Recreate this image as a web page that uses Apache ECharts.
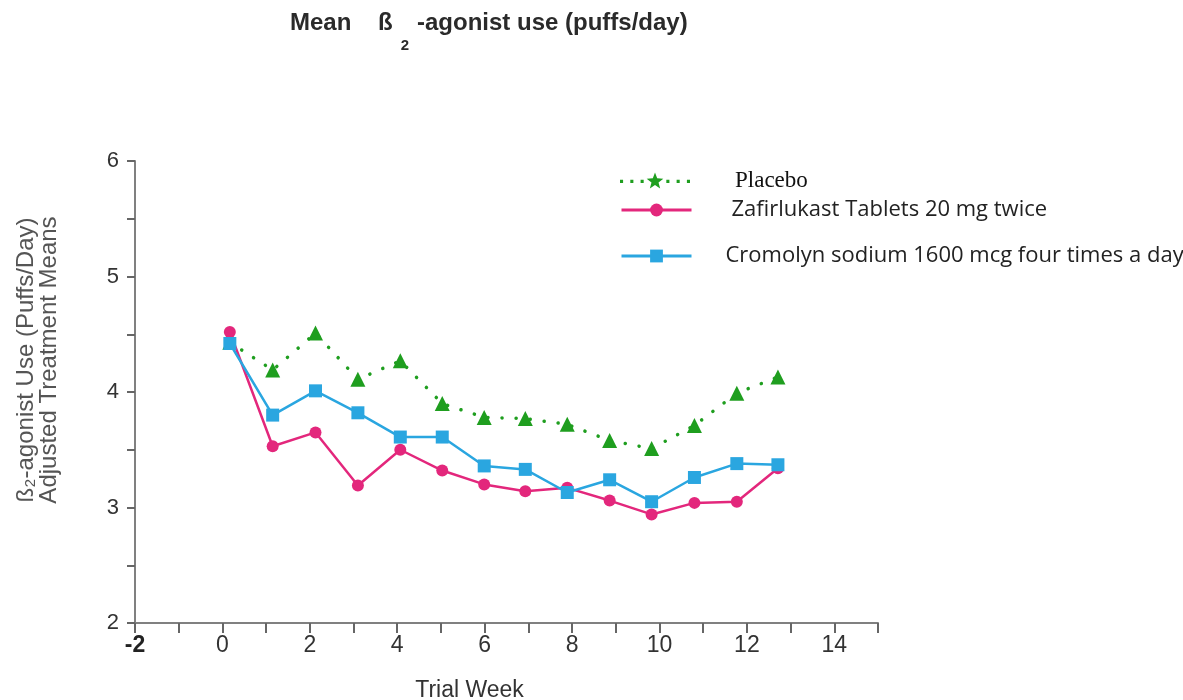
<!DOCTYPE html>
<html>
<head>
<meta charset="utf-8">
<script src="https://cdn.jsdelivr.net/npm/echarts@6/dist/echarts.min.js"></script>
<style>html,body{margin:0;padding:0;background:#fff;}#chart{width:1183px;height:700px;}</style>
</head>
<body>
<div id="chart"></div>
<script>
// ---- data ----
var weeks = [0.17, 1.15, 2.13, 3.1, 4.07, 5.03, 5.99, 6.93, 7.89, 8.86, 9.82, 10.8, 11.77, 12.71];
var placebo = [4.43, 4.19, 4.51, 4.11, 4.27, 3.90, 3.78, 3.77, 3.72, 3.58, 3.51, 3.71, 3.99, 4.13];
var zafirlukast = [4.52, 3.53, 3.65, 3.19, 3.50, 3.32, 3.20, 3.14, 3.17, 3.06, 2.94, 3.04, 3.05, 3.34];
var cromolyn = [4.42, 3.80, 4.01, 3.82, 3.61, 3.61, 3.36, 3.33, 3.13, 3.24, 3.05, 3.26, 3.38, 3.37];
var seriesNames = ['Placebo', 'Zafirlukast Tablets 20 mg twice', 'Cromolyn sodium 1600 mcg four times a day'];
var xLabels = ['-2', '0', '2', '4', '6', '8', '10', '12', '14'];
var yLabels = ['2', '3', '4', '5', '6'];

function pairs(xs, ys) { return xs.map(function (x, i) { return [x, ys[i]]; }); }

var GREEN = '#1f9e1f', PINK = '#e3277c', BLUE = '#2aa6e0';
var starIcon = 'path://M1,6.5h3v3h-3z M11,6.5h3v3h-3z M21,6.5h3v3h-3z ' +
  'M35,-0.5 L37.12,5.09 L43.08,5.37 L38.42,9.11 L40,14.88 L35,11.6 L30,14.88 L31.58,9.11 L26.92,5.37 L32.88,5.09 Z ' +
  'M46,6.5h3v3h-3z M56,6.5h3v3h-3z M66,6.5h3v3h-3z';

var chart = echarts.init(document.getElementById('chart'));
var sansLegend = { fontFamily: 'Open Sans', fontSize: 22, color: '#222' };
chart.setOption({
  animation: false,
  backgroundColor: '#fff',
  title: {
    left: 285, top: -11,
    text: '{a|Mean    ß}{s|2}{a|-agonist use (puffs/day)}',
    textStyle: {
      rich: {
        a: { fontFamily: 'Liberation Sans', fontWeight: 'bold', fontSize: 24, color: '#2a2a2a', lineHeight: 28 },
        s: { fontFamily: 'Liberation Sans', fontWeight: 'bold', fontSize: 15, color: '#2a2a2a', padding: [44, 8, 0, 8] }
      }
    }
  },
  grid: { left: 135, right: 305, top: 161, bottom: 77, outerBoundsMode: 'none', containLabel: false },
  legend: [
    { data: [{ name: seriesNames[0], icon: starIcon }], left: 620, top: 169, itemWidth: 70, itemHeight: 16, padding: 0,
      textStyle: { fontFamily: 'Liberation Serif', fontSize: 23, color: '#111', padding: [0, 0, 0, 40] } },
    { data: [seriesNames[1]], left: 620, top: 199, itemWidth: 70, itemHeight: 16, padding: 0,
      lineStyle: { width: 3 },
      textStyle: Object.assign({}, sansLegend, { padding: [0, 0, 0, 35] }) },
    { data: [seriesNames[2]], left: 620, top: 245, itemWidth: 70, itemHeight: 16, padding: 0,
      lineStyle: { width: 3 },
      textStyle: Object.assign({}, sansLegend, { padding: [0, 0, 0, 29] }) }
  ],
  xAxis: {
    type: 'value', min: -2, max: 15, interval: 1,
    name: 'Trial Week', nameLocation: 'middle', nameGap: 56,
    nameTextStyle: { fontFamily: 'Liberation Sans', fontSize: 23, color: '#333', padding: [0, 74, 0, 0] },
    axisLine: { onZero: false, lineStyle: { color: '#808080', width: 2 } },
    axisTick: { show: true, length: 10, lineStyle: { color: '#666', width: 2 } },
    axisLabel: {
      margin: 11, fontFamily: 'Liberation Sans', fontSize: 23, color: '#333',
      formatter: function (v) { var s = String(v); return xLabels.indexOf(s) >= 0 ? (s === '-2' ? '{b|' + s + '}' : s) : ''; },
      rich: { b: { fontFamily: 'Liberation Sans', fontSize: 23, fontWeight: 'bold', color: '#222' } }
    },
    splitLine: { show: false }
  },
  yAxis: {
    type: 'value', min: 2, max: 6, interval: 0.5,
    name: 'ß₂-agonist Use (Puffs/Day)\nAdjusted Treatment Means', nameLocation: 'middle', nameGap: 74, nameRotate: 90,
    nameTextStyle: { fontFamily: 'Liberation Sans', fontSize: 24, color: '#555', lineHeight: 23, padding: [0, 0, 0, 64] },
    axisLine: { onZero: false, lineStyle: { color: '#808080', width: 2 } },
    axisTick: { show: true, length: 8, lineStyle: { color: '#666', width: 2 } },
    axisLabel: {
      margin: 16, fontFamily: 'Liberation Sans', fontSize: 22, color: '#333',
      formatter: function (v) { var s = String(v); return yLabels.indexOf(s) >= 0 ? s : ''; }
    },
    splitLine: { show: false }
  },
  series: [
    { name: seriesNames[0], type: 'line', data: pairs(weeks, placebo), symbol: 'triangle', symbolSize: 15,
      itemStyle: { color: GREEN }, lineStyle: { color: GREEN, width: 3.5, type: [0.1, 14], cap: 'round' }, z: 2 },
    { name: seriesNames[1], type: 'line', data: pairs(weeks, zafirlukast), symbol: 'circle', symbolSize: 12,
      itemStyle: { color: PINK }, lineStyle: { color: PINK, width: 2.5 }, z: 3 },
    { name: seriesNames[2], type: 'line', data: pairs(weeks, cromolyn), symbol: 'rect', symbolSize: 13,
      itemStyle: { color: BLUE }, lineStyle: { color: BLUE, width: 2.5 }, z: 4 }
  ]
});
</script>
</body>
</html>
